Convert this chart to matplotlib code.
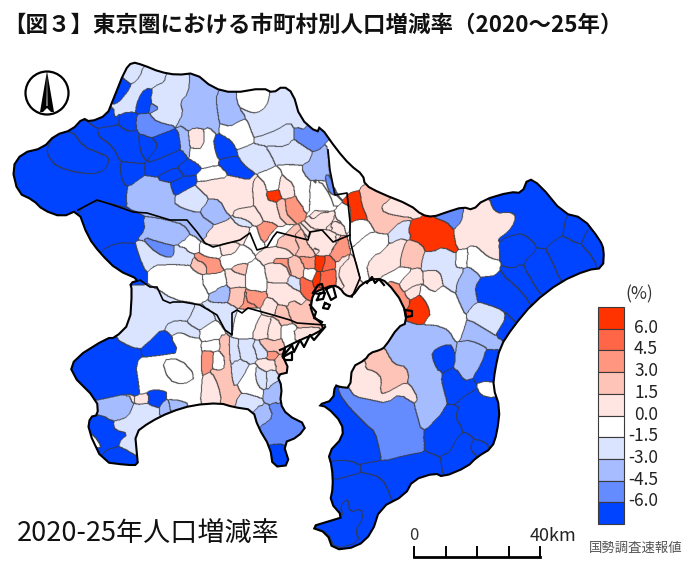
import matplotlib
matplotlib.use('Agg')
import matplotlib.pyplot as plt
import numpy as np
from matplotlib.colors import BoundaryNorm, ListedColormap
from matplotlib.patches import Circle, Polygon, Rectangle
from matplotlib.path import Path

plt.rcParams['font.family'] = ['Noto Sans CJK JP', 'DejaVu Sans']

title = '【図３】東京圏における市町村別人口増減率（2020～25年）'
caption = '2020-25年人口増減率'
source = '国勢調査速報値'
legend_labels = ['6.0', '4.5', '3.0', '1.5', '0.0', '-1.5', '-3.0', '-4.5', '-6.0']
colors = ['#ff3300', '#ff6647', '#ff9680', '#ffc4b8', '#ffe6e2',
          '#ffffff', '#dbe4ff', '#a6bcff', '#648cff', '#0044ff']
# class index: 0 = over 6.0 ... 9 = under -6.0
UP6, UP45, UP3, UP15, UP0, DN0, DN15, DN3, DN45, DN6 = range(10)

# map outline, in map units
coast = [(12,168),(22,153),(43,148),(55,135),(72,130),(83,118),(90,122),(107,115),(113,100),(125,70),(132,62),
         (143,65),(160,72),(177,75),(195,73),(213,88),(233,93),(263,88),(273,93),(283,86),(293,93),(300,118),
         (317,133),(320,126),(337,150),(350,165),(363,175),(365,185),(380,193),(410,205),(422,215),(433,217),
         (447,212),(463,207),(473,210),(483,200),(510,192),(522,193),(528,178),(540,185),(563,213),(583,218),
         (600,240),(604,250),(603,268),(587,270),(560,282),(533,303),(513,327),(500,347),(495,370),(493,387),
         (500,408),(497,433),(492,448),(477,457),(467,467),(443,477),(435,473),(413,480),(405,495),(380,508),
         (372,533),(357,547),(333,550),(327,533),(310,527),(333,520),(343,517),(330,502),(333,487),(332,467),
         (328,453),(343,437),(342,423),(327,407),(318,405),(333,400),(335,385),(340,387),(350,388),(352,367),
         (365,360),(370,353),(380,350),(385,347),(398,327),(407,323),(403,303),(387,282),(377,278),(362,283),
         (352,297),(345,295),(340,288),(333,285),(320,290),(313,293),(310,313),(325,327),(317,333),(300,340),
         (280,350),(290,372),(277,375),(282,387),(280,403),(287,415),(307,425),(298,437),(283,443),(290,465),
         (273,467),(270,447),(258,427),(253,410),(233,407),(220,403),(193,405),(170,412),(150,422),(135,433),
         (137,455),(138,465),(127,465),(103,462),(88,430),(90,417),(98,415),(97,400),(70,373),(75,358),(107,338),
         (115,338),(130,323),(132,290),(130,283),(140,280),(117,270),(100,253),(88,237),(78,210),(62,217),
         (43,210),(33,200),(18,193)]

# prefecture borders, in map units
border_saitama_tokyo = [(78,210),(97,200),(113,205),(133,212),(147,213),(170,220),(187,220),(197,232),(205,243),
                        (213,247),(240,240),(250,233),(257,250),(267,247),(273,237),(277,232),(308,240),(310,232),
                        (322,230),(333,242),(350,235)]
border_tokyo_kanagawa = [(140,280),(150,287),(157,287),(163,300),(170,303),(173,302),(183,302),(200,305),(217,315),
                         (225,330),(232,335),(232,313),(237,310),(242,313),(248,308),(273,315),(290,320),(297,323),
                         (325,325)]
border_chiba = [(328,150),(330,170),(335,195),(347,193),(350,222),(350,240),(355,260),(360,278),(352,297)]
# reclaimed land around the bay, in map units
reclaimed = [[(313,293),(318,285),(322,284),(324,292),(320,294),(313,293)],
             [(317,300),(320,293),(325,293),(323,299),(317,300)],
             [(326,289),(333,286),(336,297),(331,300),(326,289)],
             [(310,305),(316,312),(314,318),(322,322)],
             [(325,303),(330,305),(328,309),(323,308),(325,303)],
             [(280,350),(285,348),(284,355),(292,345),(294,352),(300,340),(304,347),(310,335),(314,340),(325,327)],
             [(283,357),(292,352),(292,360),(285,360),(283,357)],
             [(367,283),(372,277),(375,283),(379,279),(384,285)],
             [(405,310),(412,311),(412,316),(406,317),(405,310)]]

# municipalities traced per sheet: sheet origin, then (class, points) at 3 units per map unit
sheet_northwest = (0, 50, [
    (DN6, [(35,355),(65,310),(130,295),(165,255),(215,240),(250,205),(290,235),(360,330),(360,380),(380,420),(380,470),(340,460),(290,450),(235,480),(185,500),(130,480),(100,450),(55,430)]),
    (DN6, [(140,295),(165,255),(215,240),(250,290),(300,310),(325,320),(325,345),(300,370),(240,370),(170,350),(145,320)]),
    (DN6, [(360,335),(430,340),(435,375),(380,410),(365,380)]),
    (DN6, [(250,205),(270,215),(320,195),(345,175),(360,190),(355,225),(290,235)]),
    (DN6, [(290,235),(355,225),(390,240),(415,245),(418,300),(435,340),(365,335),(340,285),(300,265)]),
    (DN6, [(355,225),(360,190),(405,185),(410,240),(385,245)]),
    (DN6, [(415,245),(480,280),(440,330),(420,300)]),
    (DN6, [(450,265),(530,235),(540,300),(480,325),(440,335),(480,280)]),
    (DN6, [(435,345),(480,325),(540,300),(560,330),(530,350),(470,375),(435,375)]),
    (DN6, [(530,350),(560,330),(605,350),(580,375),(555,380)]),
    (DN6, [(470,385),(530,350),(555,380),(510,395)]),
    (DN6, [(510,400),(555,378),(585,378),(585,400),(520,440)]),
    (DN6, [(435,115),(460,125),(450,160),(445,185),(405,185),(415,145)]),
    (DN6, [(340,130),(370,90),(395,110),(350,165)]),
    (DN45, [(405,210),(440,190),(470,215),(530,235),(450,265),(415,245)]),
    (DN45, [(450,160),(480,175),(450,190)]),
    (DN15, [(375,85),(395,35),(430,45),(420,80),(395,100)]),
    (DN15, [(340,175),(350,165),(395,110),(420,80),(430,50),(490,70),(495,95),(460,110),(435,115),(415,145),(405,185),(360,190),(345,205)]),
    (DN15, [(495,85),(530,75),(570,75),(565,130),(540,155),(550,190),(530,225),(470,215),(450,190),(480,175),(450,155),(460,110),(495,95)]),
    (DN3, [(570,75),(585,68),(640,115),(650,130),(650,170),(660,255),(640,240),(600,230),(555,235),(530,225),(550,190),(540,155),(565,130)]),
    (DN3, [(650,130),(705,135),(715,170),(740,205),(715,215),(690,230),(660,220),(650,170)]),
    (DN0, [(710,135),(790,115),(810,130),(800,170),(770,190),(745,185),(715,170)]),
    (DN15, [(810,130),(820,130),(850,108),(880,130),(900,205),(915,240),(885,230),(870,215),(830,240),(790,255),(760,260),(740,205),(715,170),(745,185),(770,190),(800,170)]),
    (DN45, [(885,230),(915,240),(950,250),(960,290),(925,285),(890,270)]),
    (DN0, [(660,220),(690,230),(715,215),(740,205),(760,260),(750,285),(710,300),(700,270),(655,250)]),
    (DN15, [(765,265),(790,255),(830,240),(870,215),(880,250),(860,290),(800,285),(770,280)]),
    (DN15, [(710,300),(750,285),(770,285),(795,290),(800,320),(780,350),(755,345),(720,325)]),
    (DN15, [(795,290),(860,290),(885,270),(930,325),(900,340),(880,340),(860,320),(830,300)]),
    (DN3, [(905,355),(960,320),(975,295),(990,350),(1000,380),(975,395),(960,385),(920,380)]),
    (DN45, [(975,395),(1000,380),(1010,430),(990,425)]),
    (DN3, [(535,225),(555,235),(570,320),(550,300),(540,270)]),
    (UP0, [(570,240),(610,235),(610,295),(575,295)]),
    (DN0, [(575,295),(610,295),(615,230),(640,240),(655,300),(655,340),(620,350),(605,350),(570,320)]),
    (DN6, [(640,265),(660,250),(700,285),(715,320),(690,320),(655,330),(645,300)]),
    (DN6, [(655,330),(690,320),(715,320),(720,345),(750,390),(700,370),(670,350)]),
    (DN0, [(590,370),(650,345),(680,380),(650,385),(600,395)]),
    (UP0, [(590,400),(650,385),(700,385),(750,390),(755,440),(745,470),(700,470),(680,490),(660,450),(630,440),(600,420)]),
    (DN15, [(525,440),(580,410),(600,420),(625,450),(590,485),(550,475),(525,465)]),
    (DN3, [(600,490),(630,450),(660,450),(680,490),(670,510),(640,520)]),
    (DN3, [(380,420),(435,375),(470,390),(510,400),(525,445),(525,465),(590,490),(640,525),(620,545),(615,560),(590,545),(560,515),(510,510),(440,490),(380,470)]),
    (DN3, [(430,505),(500,510),(540,530),(560,565),(530,575),(470,570),(410,570),(430,545)]),
    (DN6, [(235,480),(290,450),(340,465),(400,485),(430,510),(435,540),(405,575),(360,580),(320,590),(300,610),(265,560)]),
    (DN6, [(300,610),(320,590),(375,575),(410,590),(430,650),(420,690),(395,685),(350,660)]),
    (DN15, [(405,580),(430,570),(470,610),(510,625),(530,600),(560,590),(555,610),(575,635),(545,640),(465,640),(430,655)]),
    (DN45, [(430,570),(445,562),(500,595),(525,610),(510,625),(470,610)]),
    (DN0, [(540,580),(570,565),(590,590),(560,600)]),
    (DN0, [(450,650),(545,645),(600,680),(620,740),(560,750),(480,720)]),
    (UP15, [(575,635),(615,640),(620,660),(590,665)]),
    (UP3, [(590,620),(660,630),(650,665),(625,665),(615,640)]),
    (UP15, [(705,645),(740,640),(740,670),(710,670)]),
    (UP0, [(660,590),(700,580),(705,610),(665,615)]),
    (DN0, [(610,590),(660,590),(665,620),(620,620)]),
    (DN0, [(665,620),(705,610),(745,600),(750,635),(700,645),(665,640)]),
    (UP0, [(680,670),(730,670),(735,710),(690,715)]),
    (DN0, [(600,690),(660,670),(680,700),(640,730)]),
    (UP15, [(690,715),(730,710),(730,750),(700,755)]),
    (DN3, [(630,750),(660,705),(690,720),(670,745)]),
    (DN0, [(740,640),(780,650),(790,720),(740,720)]),
    (UP3, [(735,725),(790,745),(750,770),(735,750)]),
    (UP0, [(850,700),(900,730),(905,770),(860,770),(800,715)]),
    (UP0, [(620,545),(680,512),(745,530),(750,548),(700,570),(625,585)]),
    (UP0, [(705,490),(750,470),(785,510),(770,520),(720,500)]),
    (DN15, [(700,510),(730,505),(755,530),(720,530)]),
    (DN0, [(795,380),(835,375),(835,420),(800,425)]),
    (UP6, [(800,425),(838,420),(840,450),(805,455)]),
    (UP0, [(850,380),(880,400),(885,440),(855,445),(835,420)]),
    (UP3, [(855,450),(885,440),(905,435),(920,465),(890,480),(860,490)]),
    (UP15, [(830,455),(855,450),(860,490),(840,500)]),
    (UP0, [(760,405),(795,400),(800,450),(825,455),(840,510),(800,515),(770,460)]),
    (DN0, [(880,345),(905,355),(925,400),(930,450),(915,480),(885,440),(880,400),(850,380)]),
    (DN0, [(935,400),(985,390),(1005,440),(1000,480),(945,470),(930,455)]),
    (UP0, [(945,475),(1000,490),(1030,520),(995,540),(950,520),(945,500)]),
    (UP3, [(780,530),(810,515),(820,545),(795,575),(780,560)]),
    (DN0, [(810,550),(830,545),(860,555),(820,590),(795,590)]),
    (UP15, [(835,560),(880,555),(910,590),(870,600),(830,595)]),
    (DN0, [(750,530),(785,570),(790,600),(760,595),(745,560)]),
    (UP0, [(780,600),(830,590),(870,600),(850,625),(800,640)]),
    (UP15, [(880,555),(920,580),(940,620),(905,610)]),
    (UP3, [(820,625),(855,625),(875,670),(860,680),(825,650)]),
    (UP0, [(930,545),(1010,555),(1020,590),(985,605),(945,600),(925,570)]),
    (UP15, [(860,630),(905,640),(905,680),(880,685)]),
    (UP0, [(800,640),(855,640),(875,690),(820,695)]),
    (DN15, [(860,680),(895,680),(900,720),(875,710)]),
    (UP3, [(940,625),(945,650),(925,650),(905,625)]),
    (UP6, [(945,628),(978,628),(965,660),(950,660)]),
    (UP45, [(980,620),(1005,640),(995,665),(965,665)]),
    (UP45, [(965,665),(1008,655),(1005,700),(970,720),(960,690)]),
    (UP6, [(945,670),(962,668),(958,700),(940,705)]),
    (UP45, [(900,685),(925,690),(940,710),(925,735),(905,720)]),
    (DN0, [(915,665),(950,660),(935,690),(915,685)]),
])

sheet_chiba = (300, 150, [
    (DN0, [(85,0),(110,0),(150,45),(190,75),(190,110),(140,130),(100,120),(90,75),(85,40)]),
    (DN45, [(75,75),(90,75),(105,135),(90,130),(80,105)]),
    (DN0, [(30,110),(60,90),(90,135),(105,180),(45,185),(30,160)]),
    (UP0, [(50,190),(105,185),(100,215),(70,240),(40,235)]),
    (UP0, [(100,210),(130,225),(130,250),(90,235)]),
    (DN0, [(110,180),(145,180),(150,250),(130,220),(105,205)]),
    (UP0, [(25,265),(40,235),(90,245),(115,270),(85,315),(25,285)]),
    (UP3, [(95,300),(125,260),(145,290),(125,340),(100,320)]),
    (UP0, [(105,350),(135,310),(165,360),(145,405),(115,410)]),
    (UP6, [(145,130),(180,125),(185,165),(205,210),(180,200),(150,218),(165,170)]),
    (UP15, [(180,115),(195,105),(240,130),(265,155),(240,170),(250,190),(330,200),(335,210),(300,215),(265,250),(225,245),(205,210),(185,165)]),
    (UP0, [(245,165),(265,155),(330,165),(365,195),(335,205),(255,190)]),
    (UP6, [(335,210),(400,205),(440,215),(460,240),(470,310),(430,290),(400,305),(370,280),(330,265),(325,240)]),
    (DN45, [(400,200),(440,185),(490,175),(485,215),(465,240),(440,215)]),
    (UP0, [(490,180),(520,180),(565,150),(585,190),(645,190),(645,215),(625,245),(590,270),(585,300),(565,320),(520,280),(470,295),(460,240),(485,215)]),
    (DN6, [(570,150),(610,130),(640,120),(665,130),(685,85),(720,105),(790,190),(800,200),(790,240),(735,295),(715,290),(670,250),(640,255),(610,270),(590,270),(625,245),(645,215),(645,190),(620,180),(590,190)]),
    (DN6, [(800,195),(850,205),(860,245),(840,280),(810,270),(790,240)]),
    (DN6, [(860,240),(900,270),(912,300),(905,350),(885,360),(880,320),(845,285)]),
    (DN6, [(735,295),(790,260),(840,285),(885,330),(890,360),(860,360),(780,385),(755,330)]),
    (DN6, [(600,270),(640,255),(670,250),(715,290),(670,335),(640,355),(615,300)]),
    (DN6, [(670,340),(715,295),(740,300),(760,345),(775,385),(720,430),(700,400)]),
    (DN6, [(610,375),(640,360),(660,340),(700,400),(720,430),(690,455),(640,400)]),
    (DN6, [(525,410),(545,380),(610,380),(640,400),(690,455),(640,510),(610,480),(560,460),(530,440)]),
    (DN6, [(610,480),(640,510),(600,570),(585,540)]),
    (DN0, [(500,315),(520,280),(560,320),(590,375),(545,380),(530,370),(500,345)]),
    (DN3, [(465,400),(500,345),(545,380),(525,410),(530,440),(515,470),(495,490),(480,460)]),
    (DN15, [(500,490),(530,460),(600,475),(620,500),(590,550),(580,565),(550,540),(520,515)]),
    (DN15, [(365,330),(400,305),(430,290),(470,315),(465,350),(495,355),(470,400),(465,430),(430,405),(420,360),(375,360)]),
    (DN0, [(470,310),(505,300),(500,345),(485,355),(465,350)]),
    (UP0, [(375,365),(415,360),(430,405),(410,430),(380,400)]),
    (DN15, [(265,250),(300,215),(335,210),(325,240),(335,265),(290,265),(270,280)]),
    (DN0, [(160,290),(205,245),(225,250),(265,255),(260,290),(240,310),(225,305),(200,340),(205,375),(180,385),(165,320)]),
    (UP0, [(200,345),(240,310),(260,290),(320,260),(300,320),(300,350),(250,375),(205,375)]),
    (UP15, [(320,270),(365,285),(365,330),(355,350),(305,355),(300,330)]),
    (DN0, [(150,215),(205,210),(225,245),(205,250),(160,290),(150,270)]),
    (UP0, [(110,365),(150,320),(165,330),(180,385),(150,420),(135,415)]),
    (DN0, [(250,380),(300,350),(340,355),(300,395),(280,395),(250,395)]),
    (UP0, [(300,395),(345,350),(365,385),(350,405),(315,425)]),
    (UP0, [(315,425),(345,405),(360,410),(345,440),(330,445)]),
    (DN0, [(355,410),(400,430),(430,405),(465,435),(495,495),(490,560),(465,570),(450,540),(395,520),(375,515),(395,490)]),
    (UP3, [(265,395),(280,395),(340,475),(325,480)]),
    (UP6, [(335,450),(365,440),(395,490),(370,515),(340,510),(320,480)]),
    (UP45, [(55,420),(75,415),(70,445),(50,450)]),
    (UP3, [(75,460),(95,465),(85,475)]),
])

sheet_boso = (300, 320, [
    (DN3, [(260,75),(295,20),(320,15),(350,25),(430,15),(465,65),(460,135),(410,150),(440,265),(365,340),(345,260),(355,235),(330,190),(320,140),(280,130),(265,100)]),
    (DN3, [(480,65),(510,60),(560,70),(545,130),(520,165),(490,185),(475,170),(460,135)]),
    (DN3, [(490,30),(510,0),(560,30),(600,55),(590,90),(565,85),(510,60),(480,65)]),
    (DN6, [(395,95),(430,75),(460,75),(465,140),(420,160),(400,125)]),
    (DN6, [(425,160),(465,140),(495,185),(520,180),(520,215),(470,250),(445,240)]),
    (DN6, [(545,130),(560,90),(595,90),(585,140),(575,185),(540,185),(520,175)]),
    (DN0, [(540,185),(575,185),(580,235),(540,225)]),
    (DN6, [(465,250),(520,210),(540,225),(580,235),(600,265),(590,340),(575,385),(560,365),(520,350),(490,330),(465,290)]),
    (DN6, [(370,340),(440,265),(480,255),(465,290),(490,330),(460,355),(450,395),(410,410),(380,395)]),
    (DN6, [(455,395),(490,335),(520,355),(510,385),(530,410),(500,440),(430,470),(420,410)]),
    (DN6, [(510,380),(525,358),(570,380),(540,405),(520,400)]),
    (UP0, [(155,140),(195,125),(240,165),(245,220),(285,215),(325,190),(355,235),(340,245),(300,225),(260,250),(215,240),(160,230),(150,205)]),
    (UP15, [(200,125),(205,105),(250,90),(265,110),(285,135),(320,140),(325,180),(285,190),(250,225),(240,210),(248,170),(225,155),(195,145)]),
    (DN45, [(115,205),(150,210),(165,230),(215,240),(260,250),(300,220),(345,260),(380,395),(320,405),(245,425),(240,395),(225,335),(205,320),(170,290),(150,265),(125,235)]),
    (DN6, [(55,255),(100,240),(105,195),(120,225),(150,265),(205,320),(225,335),(240,395),(242,420),(185,430),(150,420),(95,420),(85,400),(130,350),(125,310),(80,260)]),
    (DN6, [(95,425),(150,420),(185,450),(140,470),(105,475)]),
    (DN6, [(185,430),(245,425),(320,405),(380,395),(420,410),(430,470),(405,460),(340,480),(315,525),(275,530),(250,480),(240,470),(190,455)]),
    (DN6, [(105,480),(185,460),(240,470),(275,530),(230,570),(210,640),(170,680),(100,690),(80,640),(30,620),(100,600),(130,590),(90,545),(100,500)]),
    (DN6, [(120,555),(145,535),(148,578),(185,565),(188,600),(165,630),(180,665),(105,688),(85,640),(35,620),(100,600),(130,590)]),
])

sheet_kanagawa = (60, 290, [
    (DN15, [(165,145),(210,100),(215,0),(295,5),(330,35),(400,50),(385,90),(350,90),(315,105),(245,175),(210,170)]),
    (DN15, [(385,90),(405,55),(450,60),(465,90),(420,120),(385,100)]),
    (DN15, [(430,40),(505,55),(510,75),(515,130),(495,120),(470,75)]),
    (DN0, [(420,120),(465,90),(500,130),(475,145),(430,155)]),
    (DN15, [(315,105),(350,90),(385,100),(420,125),(400,145),(360,125),(330,140)]),
    (DN6, [(245,175),(315,110),(360,185),(300,195),(245,200)]),
    (DN6, [(30,250),(45,205),(140,145),(165,145),(210,170),(245,180),(245,200),(225,210),(240,310),(205,310),(115,330),(100,290),(95,250)]),
    (DN0, [(225,210),(300,195),(360,190),(330,140),(360,125),(400,145),(425,160),(420,345),(390,345),(380,335),(320,325),(345,300),(310,300),(265,300),(240,310)]),
    (DN0, [(305,210),(360,205),(410,260),(370,285),(325,270)]),
    (DN6, [(270,300),(305,300),(315,320),(300,345),(270,345),(262,320)]),
    (UP0, [(205,310),(220,330),(210,345),(195,325)]),
    (UP0, [(225,325),(265,310),(265,335),(235,345)]),
    (DN3, [(110,380),(115,330),(205,310),(220,345),(205,380),(165,390)]),
    (DN15, [(160,400),(205,380),(220,345),(265,340),(300,370),(260,395),(225,430),(230,495),(200,480),(175,460),(205,430),(170,420),(160,420)]),
    (DN3, [(305,340),(325,335),(330,365),(305,370)]),
    (DN3, [(325,330),(360,330),(385,345),(335,365)]),
    (DN6, [(85,420),(90,380),(130,375),(160,400),(165,420),(205,430),(175,455),(150,490),(115,490),(90,460)]),
    (DN0, [(90,430),(105,440),(125,470),(110,475),(95,455)]),
    (DN6, [(125,490),(160,470),(215,485),(235,525),(205,530),(135,520)]),
    (UP3, [(425,185),(460,180),(455,240),(425,255)]),
    (UP15, [(480,135),(500,135),(510,240),(545,315),(515,350),(485,335),(475,285),(450,245),(460,240),(485,240),(495,230),(480,190)]),
    (UP0, [(430,260),(455,245),(475,285),(485,335),(425,340)]),
    (DN0, [(460,185),(490,190),(495,230),(480,240),(458,235)]),
    (DN0, [(425,160),(475,145),(480,180),(430,185)]),
    (DN15, [(530,325),(545,315),(600,330),(610,350),(575,355),(530,350)]),
    (DN15, [(510,150),(535,150),(540,210),(515,235)]),
    (DN15, [(530,150),(580,150),(590,185),(560,205),(545,210)]),
    (DN15, [(515,215),(550,210),(555,250),(525,295),(515,260)]),
    (DN15, [(575,160),(600,155),(625,195),(590,190)]),
    (DN0, [(525,295),(555,250),(590,235),(585,275),(610,320),(575,305)]),
    (DN15, [(585,240),(610,240),(620,280),(610,295),(590,275)]),
    (DN15, [(625,240),(650,250),(640,280),(620,300)]),
    (UP0, [(600,225),(640,210),(650,235),(610,240)]),
    (DN3, [(610,320),(640,275),(665,300),(660,340),(630,345)]),
    (UP15, [(640,210),(680,205),(695,250),(660,250)]),
    (UP3, [(625,185),(645,185),(645,205),(630,205)]),
    (UP15, [(595,155),(620,145),(670,160),(640,185),(620,180)]),
    (UP0, [(600,95),(630,85),(630,125),(615,150),(575,135),(585,105)]),
    (UP0, [(630,90),(660,95),(650,155),(620,145)]),
    (DN0, [(520,115),(575,60),(590,70),(590,105),(570,145),(525,140)]),
    (DN0, [(665,110),(710,105),(700,150),(680,160)]),
    (UP3, [(555,5),(590,0),(615,35),(565,45)]),
    (UP15, [(645,55),(680,50),(700,90),(670,105),(650,80)]),
    (UP15, [(680,40),(710,30),(750,80),(795,105),(720,120),(710,100),(690,85)]),
    (UP0, [(700,115),(775,110),(770,130),(710,150)]),
    (UP0, [(620,30),(650,50),(640,75),(610,50)]),
    (DN3, [(590,350),(610,345),(625,345),(640,380),(610,405),(595,380)]),
    (DN45, [(610,405),(640,380),(625,345),(655,335),(670,370),(690,370),(700,400),(740,405),(715,440),(670,460),(640,465),(620,420)]),
    (DN6, [(635,465),(670,460),(680,520),(635,525)]),
])

sheets = [sheet_northwest, sheet_chiba, sheet_boso, sheet_kanagawa]


def rounded(points):
    # one pass of corner cutting, the traced corners look too sharp
    pts = np.array(points, dtype=float)
    nxt = np.roll(pts, -1, axis=0)
    return np.column_stack([0.75 * pts + 0.25 * nxt, 0.25 * pts + 0.75 * nxt]).reshape(-1, 2)


# rasterise the traced areas so that neighbours meet with no gaps
SS = 2
W, H = 700, 570
gx, gy = np.meshgrid((np.arange(W * SS) + 0.5) / SS, (np.arange(H * SS) + 0.5) / SS)
labels = np.full(gx.shape, -1)
classes = []
for x0, y0, regions in sheets:
    for cls, pts in regions:
        xy = rounded([(x0 + x / 3, y0 + y / 3) for x, y in pts])
        c0, c1 = int(xy[:, 0].min() * SS), int(xy[:, 0].max() * SS) + 1
        r0, r1 = int(xy[:, 1].min() * SS), int(xy[:, 1].max() * SS) + 1
        pix = np.column_stack([gx[r0:r1, c0:c1].ravel(), gy[r0:r1, c0:c1].ravel()])
        inside = Path(xy).contains_points(pix).reshape(r1 - r0, c1 - c0)
        labels[r0:r1, c0:c1][inside] = len(classes)
        classes.append(cls)
classes = np.array(classes + [DN0])

coast_line = rounded(coast)
land = Path(coast_line).contains_points(np.column_stack([gx.ravel(), gy.ravel()])).reshape(gx.shape)

# grow the areas into whatever land is left over
for _ in range(300):
    todo = labels < 0
    if not (todo & land).any():
        break
    for shift, axis in [(1, 0), (-1, 0), (1, 1), (-1, 1)]:
        moved = np.roll(labels, shift, axis=axis)
        take = (labels < 0) & (moved >= 0)
        labels[take] = moved[take]
labels[labels < 0] = len(classes) - 1

edge = np.zeros(labels.shape, dtype=bool)
edge[:-1, :] |= labels[:-1, :] != labels[1:, :]
edge[:, :-1] |= labels[:, :-1] != labels[:, 1:]
edge = edge | np.roll(edge, 1, axis=0) | np.roll(edge, 1, axis=1)
edge &= land

fig = plt.figure(figsize=(7, 5.7), dpi=100)
ax = fig.add_axes([0, 0, 1, 1])

cmap = ListedColormap(colors)
cmap.set_bad((1, 1, 1, 0))
norm = BoundaryNorm(np.arange(-0.5, 10.5), 10)
ax.imshow(np.ma.masked_where(~land, classes[labels]), cmap=cmap, norm=norm, extent=(0, W, H, 0), aspect='auto',
          interpolation='hanning', interpolation_stage='rgba', zorder=1)
edge_rgba = np.zeros(edge.shape + (4,))
edge_rgba[..., :3] = 0.22
edge_rgba[..., 3] = edge * 0.9
ax.imshow(edge_rgba, extent=(0, W, H, 0), aspect='auto', interpolation='hanning', zorder=2)
ax.set_xlim(0, W)
ax.set_ylim(H, 0)
ax.axis('off')

for line in [border_saitama_tokyo, border_tokyo_kanagawa, border_chiba]:
    ax.plot(*zip(*line), color='black', lw=1.2, zorder=3)
ax.add_patch(Polygon(coast_line, closed=True, fc='none', ec='black', lw=1.5, zorder=4))
for line in reclaimed:
    ax.plot(*zip(*line), color='black', lw=1.6, zorder=4)

ax.text(3, 25, title, fontsize=16.2, fontweight='bold', color='#111111', va='center', ha='left')
ax.text(17, 533, caption, fontsize=19.5, color='#111111', va='center', ha='left')
ax.text(636, 548, source, fontsize=9.6, color='#555555', va='center', ha='center')

# north arrow
ax.add_patch(Circle((47, 93), 21.5, fc='white', ec='black', lw=1.6, zorder=5))
ax.add_patch(Polygon([(47, 71), (40, 112), (54, 112)], closed=True, fc='black', ec='none', zorder=6))
ax.add_patch(Polygon([(47, 71), (46.5, 106), (47.5, 106)], closed=True, fc='white', ec='none', zorder=7))
ax.add_patch(Polygon([(43, 112), (47, 108), (51, 112)], closed=True, fc='white', ec='none', zorder=7))

# legend
box_h = (524 - 307) / len(colors)
for i, c in enumerate(colors):
    ax.add_patch(Rectangle((598, 307 + i * box_h), 26, box_h, fc=c, ec='#3a3a3a', lw=0.8, zorder=5))
for i, lab in enumerate(legend_labels):
    ax.text(658, 307 + (i + 1) * box_h - 1, lab, fontsize=12.5, color='#222222', ha='right', va='center')
ax.text(639, 294, '(%)', fontsize=12.5, color='#333333', ha='center', va='center')

# scale bar
for x in [414, 445.5, 477, 508.5, 540]:
    ax.plot([x, x], [547, 557], color='black', lw=1.4, zorder=5)
ax.plot([414, 540], [557, 557], color='black', lw=2, zorder=5)
ax.text(414, 536, '0', fontsize=12, color='#333333', ha='center', va='center')
ax.text(553, 536, '40km', fontsize=13, color='#222222', ha='center', va='center')

fig.savefig('out.png', dpi=100)
